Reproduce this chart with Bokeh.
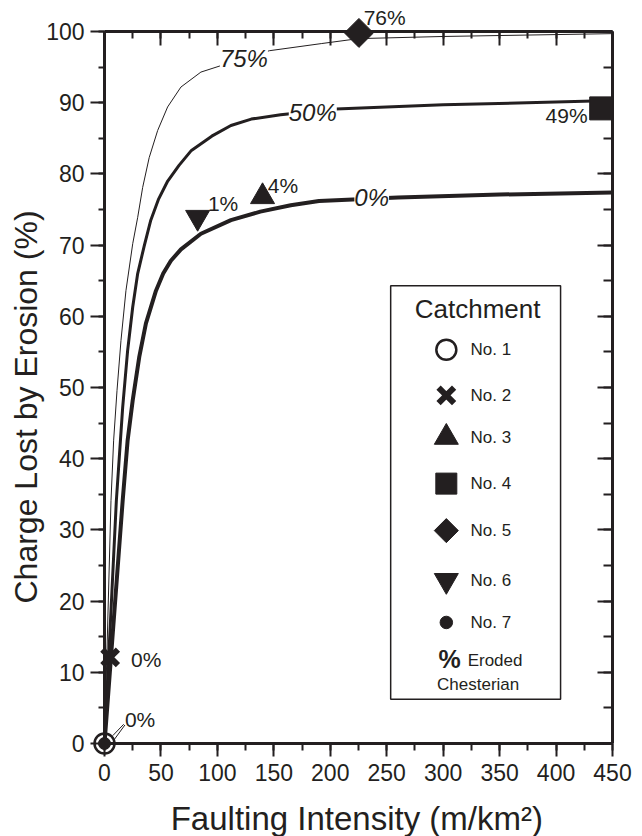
from bokeh.plotting import figure
from bokeh.models import (LinearAxis, Range1d, LabelSet, Label, ColumnDataSource,
                          SingleIntervalTicker, CustomLabelingPolicy, Title)
from bokeh.core.properties import value
from bokeh.embed import file_html
from bokeh.resources import INLINE

# ---------------- data ----------------
# model curves (% eroded Chesterian)
c75_x = [0, 5.75, 8.1, 11.1, 14.6, 19.0, 25.0, 29.4, 33.8, 39.6, 47.1, 55.9,
         67.7, 85.4, 103, 146, 192, 225, 300, 375, 450]
c75_y = [0, 34.1, 42.6, 49.6, 56.6, 63.6, 70.2, 73.9, 78.1, 82.3, 86.1, 89.4,
         92.2, 94.3, 95.2, 97.3, 98.3, 99.0, 99.3, 99.5, 99.7]

c50_x = [0, 10.5, 13.1, 16.1, 20.5, 25.0, 29.4, 35.2, 41, 48, 56, 66, 77, 95,
         112, 130, 156, 205, 300, 450]
c50_y = [0, 34.1, 40.2, 47.2, 55.2, 61.3, 66.0, 69.9, 73.5, 76.5, 79.0, 81.2,
         83.3, 85.3, 86.8, 87.7, 88.3, 89.1, 89.7, 90.3]

c00_x = [0, 16.1, 20.5, 25.0, 30.8, 36.7, 45.6, 52, 58.8, 67.7, 85.4, 112, 138,
         165, 190, 260, 350, 450]
c00_y = [0, 34.1, 42.6, 48.2, 54.3, 59.0, 63.6, 66.0, 67.8, 69.4, 71.6, 73.5, 74.7,
         75.6, 76.2, 76.7, 77.1, 77.4]

curve_labels = ["75%", "50%", "0%"]
curve_label_x = [123.5, 184.5, 236.7]
curve_label_y = [96.2, 88.6, 76.7]

# catchments
catch_names = ["No. 1", "No. 2", "No. 3", "No. 4", "No. 5", "No. 6", "No. 7"]
catch_x = [0, 5, 140, 440, 225.4, 82.5, 0]
catch_y = [0, 12.1, 76.8, 89.2, 99.8, 73.9, 0]
catch_eroded = ["0%", "0%", "4%", "49%", "76%", "1%", ""]

# where the "% eroded" annotations sit
ann_text = ["0%", "0%", "4%", "1%", "76%"]
ann_x = [18.1, 23.5, 144.7, 91.6, 229.6]
ann_y = [3.4, 11.8, 78.4, 75.8, 101.9]
ann49_x = [427.9]
ann49_y = [88.2]

# leader lines for catchment No. 1 label
lead_x0 = [8.4, 7.3]
lead_y0 = [0.5, 1.1]
lead_x1 = [18.1, 17.0]
lead_y1 = [2.6, 2.7]

x_title = "Faulting Intensity (m/km²)"
y_title = "Charge Lost by Erosion (%)"

INK = "#231f20"
FONT = "Liberation Sans"

p = figure(width=642, height=836, x_range=Range1d(0, 450), y_range=Range1d(0, 100),
           output_backend="svg", toolbar_location=None,
           min_border_left=104, min_border_right=30, min_border_top=31,
           min_border_bottom=93)
p.outline_line_color = None
p.xgrid.visible = False
p.ygrid.visible = False
p.background_fill_color = "white"
p.border_fill_color = "white"

xt = SingleIntervalTicker(interval=50, num_minor_ticks=2)
yt = SingleIntervalTicker(interval=10, num_minor_ticks=2)

def style(ax, tin, tout, minin, minout):
    ax.axis_line_width = 3
    ax.axis_line_color = INK
    ax.major_tick_line_width = 2
    ax.minor_tick_line_width = 2
    ax.major_tick_line_color = INK
    ax.minor_tick_line_color = INK
    ax.major_tick_in = tin
    ax.major_tick_out = tout
    ax.minor_tick_in = minin
    ax.minor_tick_out = minout
    ax.major_label_text_font = FONT
    ax.major_label_text_font_size = "23px"
    ax.major_label_text_color = INK

no_labels = CustomLabelingPolicy(code="""
const idx = [];
for (const i of indices) idx.push(i);
for (const i of idx) indices.unset(i);
return indices;
""")

xb = p.xaxis[0]
xb.ticker = xt
style(xb, 0, 13, 0, 7)
xb.major_label_standoff = 7

yl = p.yaxis[0]
yl.ticker = yt
style(yl, 0, 14, 0, 6)
yl.major_label_standoff = 6

xtop = LinearAxis(ticker=xt, major_label_policy=no_labels)
style(xtop, 14, 0, 7, 0)
xtop.major_label_text_font_size = "1px"
xtop.major_label_standoff = 0
p.add_layout(xtop, "above")

yr = LinearAxis(ticker=yt, major_label_policy=no_labels)
style(yr, 15, 0, 9, 0)
yr.major_label_text_font_size = "1px"
yr.major_label_standoff = 0
p.add_layout(yr, "right")

# y axis title (as a side title so it can sit where the reference has it)
p.add_layout(Title(text=y_title, align="left", offset=140,
                   standoff=0, text_font=FONT, text_font_size="32px",
                   text_font_style="normal", text_color=INK), "left")

# x axis title, below the tick labels as in the reference
xt_r = p.text(x=[223.5], y=[-10.6], text=[x_title], text_font=value(FONT),
              text_font_size="33px", text_align="center", text_baseline="middle",
              text_color=INK)
xt_r.level = "overlay"

# curves
p.line(c75_x, c75_y, line_width=1, line_color=INK, line_join="round")
p.line(c50_x, c50_y, line_width=3, line_color=INK, line_join="round")
p.line(c00_x, c00_y, line_width=4, line_color=INK, line_join="round")

cl_src = ColumnDataSource(dict(x=curve_label_x, y=curve_label_y, t=curve_labels))
p.add_layout(LabelSet(x="x", y="y", text="t", source=cl_src, text_font=value(FONT),
                      text_font_size="24px", text_font_style="italic",
                      text_align="center", text_baseline="middle",
                      text_color=INK, background_fill_color="white"))

# ---------------- legend (drawn in the plot) ----------------
leg_left, leg_right, leg_bottom, leg_top = 253.5, 404.0, 6.2, 64.3
leg_mx, leg_tx = 302.8, 324.3
leg_rows = [55.3, 48.9, 43.0, 36.5, 29.9, 22.9, 17.0]

p.quad(left=[leg_left], right=[leg_right], bottom=[leg_bottom], top=[leg_top],
       fill_color="white", line_color=INK, line_width=1.5)

# markers: [plot size, legend size, marker, angle, filled, line width]
specs = [
    (20, 20, "circle", 0, False, 2.5),
    (22, 22, "x", 0, True, 6),
    (24, 24, "triangle", 0, True, 1),
    (23, 21, "square", 0, True, 1),
    (20.5, 17, "square", 0.785398, True, 1),
    (24, 24, "inverted_triangle", 0, True, 1),
    (12, 12.5, "circle", 0, True, 1),
]
for i, (ps, ls, mk, ang, filled, lw) in enumerate(specs):
    fc = INK if filled else "white"
    fa = 1 if filled else 0
    r = p.scatter([catch_x[i]], [catch_y[i]], size=ps, marker=mk, angle=ang,
                  fill_color=fc, fill_alpha=fa, line_color=INK, line_width=lw)
    r.level = "overlay"
    p.scatter([leg_mx], [leg_rows[i]], size=ls, marker=mk, angle=ang,
              fill_color=fc, fill_alpha=fa, line_color=INK, line_width=lw)

leg_src = ColumnDataSource(dict(x=[leg_tx] * 7, y=leg_rows, t=catch_names))
p.add_layout(LabelSet(x="x", y="y", text="t", source=leg_src, text_font=value(FONT),
                      text_font_size="17px", text_align="left",
                      text_baseline="middle", text_color=INK))

p.add_layout(Label(x=330.5, y=61.0, text="Catchment", text_font=FONT,
                   text_font_size="26px", text_align="center",
                   text_baseline="middle", text_color=INK))
p.add_layout(Label(x=305.8, y=11.8, text="%", text_font=FONT,
                   text_font_size="25px", text_font_style="bold",
                   text_align="center", text_baseline="middle", text_color=INK))
p.add_layout(Label(x=321.7, y=11.7, text="Eroded", text_font=FONT,
                   text_font_size="17px", text_align="left",
                   text_baseline="middle", text_color=INK))
p.add_layout(Label(x=331.0, y=8.3, text="Chesterian", text_font=FONT,
                   text_font_size="17px", text_align="center",
                   text_baseline="middle", text_color=INK))

# annotations of eroded percentage (text glyphs so they may sit outside the frame)
p.segment(lead_x0, lead_y0, lead_x1, lead_y1, line_width=1, line_color=INK)
t1 = p.text(x=ann_x, y=ann_y, text=ann_text, text_font=value(FONT),
            text_font_size="21px", text_align="left", text_baseline="middle",
            text_color=INK)
t1.level = "overlay"
t2 = p.text(x=ann49_x, y=ann49_y, text=["49%"], text_font=value(FONT),
            text_font_size="21px", text_align="right", text_baseline="middle",
            text_color=INK)
t2.level = "overlay"

open("out.html", "w").write(file_html(p, INLINE))
